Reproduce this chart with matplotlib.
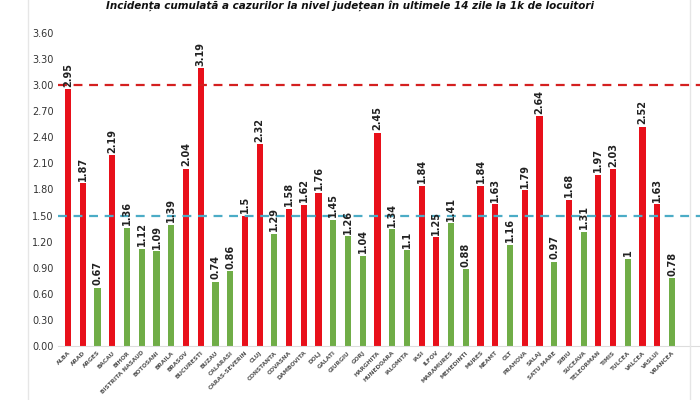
import matplotlib.pyplot as plt

judete = ['ALBA', 'ARAD', 'ARGES', 'BACAU', 'BIHOR', 'BISTRITA NASAUD', 'BOTOSANI',
          'BRAILA', 'BRASOV', 'BUCURESTI', 'BUZAU', 'CALARASI', 'CARAS-SEVERIN', 'CLUJ',
          'CONSTANTA', 'COVASNA', 'DAMBOVITA', 'DOLJ', 'GALATI', 'GIURGIU', 'GORJ',
          'HARGHITA', 'HUNEDOARA', 'IALOMITA', 'IASI', 'ILFOV', 'MARAMURES', 'MEHEDINTI',
          'MURES', 'NEAMT', 'OLT', 'PRAHOVA', 'SALAJ', 'SATU MARE', 'SIBIU', 'SUCEAVA',
          'TELEORMAN', 'TIMIS', 'TULCEA', 'VALCEA', 'VASLUI', 'VRANCEA']
incidenta = [2.95, 1.87, 0.67, 2.19, 1.36, 1.12, 1.09, 1.39, 2.04, 3.19, 0.74, 0.86,
             1.5, 2.32, 1.29, 1.58, 1.62, 1.76, 1.45, 1.26, 1.04, 2.45, 1.34, 1.1,
             1.84, 1.25, 1.41, 0.88, 1.84, 1.63, 1.16, 1.79, 2.64, 0.97, 1.68, 1.31,
             1.97, 2.03, 1, 2.52, 1.63, 0.78]
# r = rosu, g = verde
culori_cod = ['r', 'r', 'g', 'r', 'g', 'g', 'g', 'g', 'r', 'r', 'g', 'g',
              'r', 'r', 'g', 'r', 'r', 'r', 'g', 'g', 'g', 'r', 'g', 'g',
              'r', 'r', 'g', 'g', 'r', 'r', 'g', 'r', 'r', 'g', 'r', 'g',
              'r', 'r', 'g', 'r', 'r', 'g']
yticks = [0.0, 0.3, 0.6, 0.9, 1.2, 1.5, 1.8, 2.1, 2.4, 2.7, 3.0, 3.3, 3.6]

ROSU = '#e8101a'
VERDE = '#70ad47'
culori = [ROSU if c == 'r' else VERDE for c in culori_cod]

fig = plt.figure(figsize=(7, 4), dpi=100)
ax = fig.add_axes([0.083, 0.135, 0.917, 0.8025])

x = list(range(len(judete)))
ax.bar(x, incidenta, width=0.42, color=culori, zorder=2)

for i, v in zip(x, incidenta):
    ax.text(i, v + 0.03, str(v), rotation=90, ha='center', va='bottom',
            fontsize=7, fontweight='bold', color='#222222', zorder=4)

ax.axhline(3.0, color='#d42020', linestyle=(0, (4, 3)), linewidth=1.6, zorder=3)
ax.axhline(1.49, color='#4bacc6', linestyle=(0, (4, 3)), linewidth=1.6, zorder=3)

ax.set_xlim(-0.68, 42.9)
ax.set_ylim(0, 3.69)
ax.set_yticks(yticks)
ax.set_yticklabels(['%.2f' % t for t in yticks], fontsize=7, color='#333333')
ax.set_xticks(x)
ax.set_xticklabels(judete, rotation=45, ha='right', rotation_mode='anchor',
                   fontsize=4.2, fontweight='bold', color='#555555')
ax.tick_params(axis='both', length=0, pad=3)
for s in ['top', 'right', 'left']:
    ax.spines[s].set_visible(False)
ax.spines['bottom'].set_color('#dddddd')

# chenarul imaginii
fig.add_artist(plt.Line2D([0.04, 0.04], [0, 1], color='#e6e6e6', linewidth=1))
fig.add_artist(plt.Line2D([0.986, 0.986], [0, 1], color='#e6e6e6', linewidth=1))

fig.text(0.5, 0.999, 'Incidența cumulată a cazurilor la nivel județean în ultimele 14 zile la 1k de locuitori',
         ha='center', va='top', fontsize=7.5, fontweight='bold', style='italic', color='#111111')

plt.savefig('out.png', dpi=100)
